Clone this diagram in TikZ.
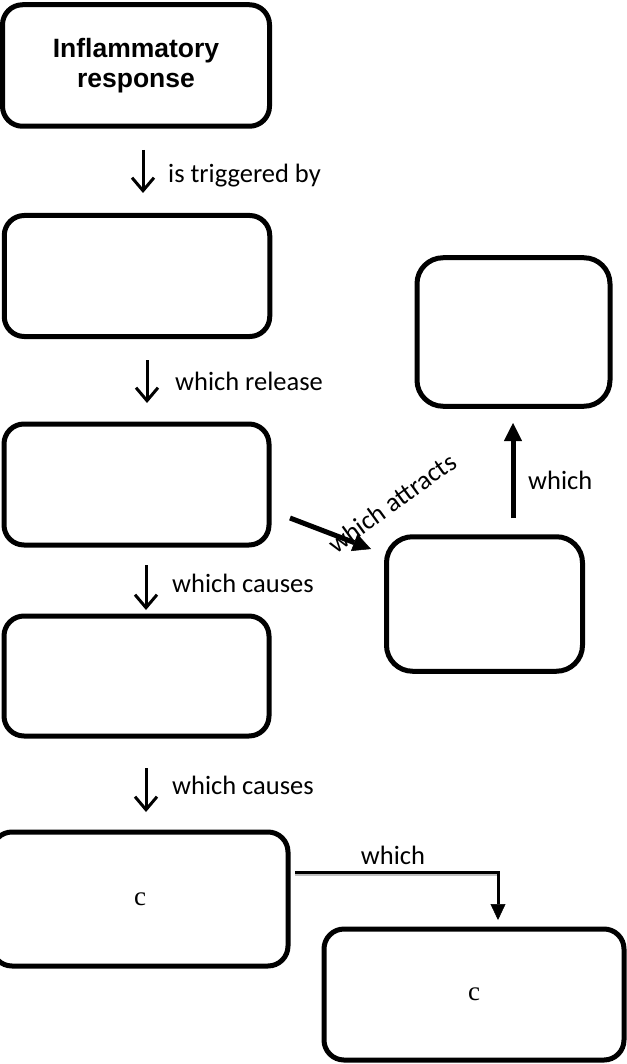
\documentclass[tikz,border=0pt]{standalone}
\usepackage{fontspec}
\setmainfont{Liberation Serif}
\newfontfamily\labelfont{Carlito}
\newfontfamily\titlefont{Liberation Sans}
\usetikzlibrary{arrows.meta}
\begin{document}
\begin{tikzpicture}[x=1pt,y=-1pt,
  box/.style={draw, line width=5pt, rounded corners=20pt, inner sep=0pt},
  rbox/.style={box, rounded corners=26pt},
  lbl/.style={font=\labelfont\fontsize{26.5}{30}\selectfont, inner sep=0pt},
  ctext/.style={font=\fontsize{27}{30}\selectfont},
  downarrow/.style={line width=3pt, -{Straight Barb[length=13pt,width=22pt,line width=3pt]}},
  thickarrow/.style={line width=5pt, -{Triangle[length=18pt,width=18pt,line width=0.5pt]}},
  elbowarrow/.style={line width=3pt, -{Triangle[length=16pt,width=15pt,line width=0.5pt]}},
  shadowline/.style={draw=black!25, line width=2pt}
]
\useasboundingbox (0,0) rectangle (626,1064);

% boxes
\node[box, minimum width=267pt, minimum height=121.5pt,
      font=\titlefont\bfseries\fontsize{26.5}{30}\selectfont, align=center]
      (b1) at (136,65.5) {Inflammatory\\response};
\node[box, minimum width=265.5pt, minimum height=121pt] (b2) at (137,276) {};
\node[box, minimum width=265pt, minimum height=121pt] (b3) at (136.5,484.5) {};
\node[box, minimum width=265pt, minimum height=120pt] (b4) at (136.5,676) {};
\node[box, minimum width=296pt, minimum height=134pt, ctext] (b5) at (140,899) {c};
\node[box, minimum width=300pt, minimum height=131pt, ctext] (b6) at (474,994.5) {c};
\node[rbox, minimum width=193pt, minimum height=148.5pt] (b7) at (513.5,332) {};
\node[rbox, minimum width=196pt, minimum height=134.5pt] (b8) at (484.5,604) {};

% connector end points
\coordinate (a1s) at (143,150); \coordinate (a1e) at (143,193);
\coordinate (a2s) at (147,360); \coordinate (a2e) at (147,403);
\coordinate (a3s) at (146,565); \coordinate (a3e) at (146,610);
\coordinate (a4s) at (146,768); \coordinate (a4e) at (146,812);
\coordinate (ats) at (290,518); \coordinate (ate) at (371,549);
\coordinate (ups) at (513,518); \coordinate (upe) at (513,423);
\coordinate (ws) at (295,872);  \coordinate (wc) at (498,872); \coordinate (we) at (498,920);

% vertical arrows with labels
\draw[downarrow] (a1s) -- (a1e);
\node[lbl, anchor=base west] (l1) at (168,183) {is triggered by};
\draw[downarrow] (a2s) -- (a2e);
\node[lbl, anchor=base west] (l2) at (175,390) {which release};
\draw[downarrow] (a3s) -- (a3e);
\node[lbl, anchor=base west] (l3) at (172,592) {which causes};
\draw[downarrow] (a4s) -- (a4e);
\node[lbl, anchor=base west] (l4) at (172,794) {which causes};

% which attracts
\node[lbl, rotate=36] (l5) at (392,503) {which attracts};
\draw[thickarrow] (ats) -- (ate);

% which (up)
\draw[thickarrow] (ups) -- (upe);
\node[lbl, anchor=base west] (l6) at (528,489) {which};

% which (elbow)
\draw[shadowline] ([yshift=-3pt]ws) -- ([yshift=-3pt]wc);
\draw[elbowarrow] (ws) -| (we);
\node[lbl, anchor=base] (l7) at (393,864) {which};
\end{tikzpicture}
\end{document}
